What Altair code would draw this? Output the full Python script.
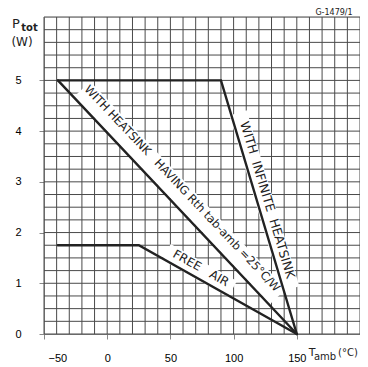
import altair as alt
import pandas as pd

# ---- curves (T_amb in degC, P_tot in W) ----
inf_t = [-39, 90, 150]
inf_p = [5, 5, 0]
hs_t = [-39, 150]
hs_p = [5, 0]
free_t = [-39, 25, 150]
free_p = [1.75, 1.75, 0]

NB = "\u00a0"
# ---- curve labels ----
label_text = ["WITH HEATSINK" + NB * 3 + "HAVING Rth tab-amb =25°C/W",
              "WITH" + NB * 2 + "INFINITE" + NB * 2 + "HEATSINK",
              "FREE" + NB * 3 + "AIR"]
label_x = [59.0, 126.7, 74.2]
label_y = [2.86, 2.64, 1.30]
label_angle = [46.6, 73.3, 29.2]
label_size = [11.5, 12.5, 12]

# white bands behind the labels (start / end in data units)
band_x1 = [-19.7, 103.5, 46.8]
band_y1 = [4.83, 4.36, 1.62]
band_x2 = [135.2, 145.2, 99.2]
band_y2 = [0.74, 0.89, 0.89]
band_w = [22, 18, 18]

# ---- grid and tick labels ----
x_grid = list(range(-50, 201, 10))
y_grid = [i * 0.25 for i in range(26)]
x_labels = [-50, 0, 50, 100, 150]
y_labels = [0, 1, 2, 3, 4, 5]

FONT = "DejaVu Sans"
INK = "#222222"
GRID = "#4a4a4a"

curves = []
for name, ts, ps in [("inf", inf_t, inf_p), ("hs", hs_t, hs_p), ("free", free_t, free_p)]:
    for i, (t, p) in enumerate(zip(ts, ps)):
        curves.append({"curve": name, "t": t, "p": p, "o": i})
curves = pd.DataFrame(curves)

labels = pd.DataFrame({"text": label_text, "t": label_x, "p": label_y})
bands = pd.DataFrame({"t": band_x1, "p": band_y1, "t2": band_x2, "p2": band_y2, "w": band_w})

xs = alt.Scale(domain=[-50, 200], nice=False, zero=False)
ys = alt.Scale(domain=[0, 6.25], nice=False, zero=False)

x_axis = alt.Axis(values=x_labels, title=None, grid=False, labelOverlap=False,
                  labelPadding=13, labelFontSize=11, labelFlush=True, labelFlushOffset=-4)
y_axis = alt.Axis(values=y_labels, title=None, grid=False, labelOverlap=False,
                  labelPadding=18, labelFontSize=11)

X = lambda f: alt.X(f, scale=xs, axis=x_axis)
Y = lambda f: alt.Y(f, scale=ys, axis=y_axis)

vgrid = alt.Chart(pd.DataFrame({"t": x_grid})).mark_rule(color=GRID, strokeWidth=1).encode(x=X("t:Q"))
hgrid = alt.Chart(pd.DataFrame({"p": y_grid})).mark_rule(color=GRID, strokeWidth=1).encode(y=Y("p:Q"))

band_layer = alt.Chart(bands).mark_rule(color="white", strokeCap="butt").encode(
    x=X("t:Q"), y=Y("p:Q"), x2="t2:Q", y2="p2:Q",
    size=alt.Size("w:Q", scale=None, legend=None),
)

base_lines = alt.Chart(curves).mark_line(color=INK, strokeWidth=2.4, strokeCap="round", strokeJoin="miter").encode(
    x=X("t:Q"), y=Y("p:Q"), detail="curve:N", order="o:Q",
)

text_layers = []
for i in range(len(label_text)):
    text_layers.append(
        alt.Chart(labels.iloc[[i]]).mark_text(
            font=FONT, fontSize=label_size[i], angle=label_angle[i], color=INK,
            align="center", baseline="middle"
        ).encode(x=X("t:Q"), y=Y("p:Q"), text="text:N")
    )

one = pd.DataFrame({"a": [0]})

def note(txt, x, y, size, weight="normal"):
    return alt.Chart(one).mark_text(text=txt, font=FONT, fontSize=size, color=INK,
                                    align="center", baseline="middle", fontWeight=weight).encode(
        x=alt.value(x), y=alt.value(y))

titles = [
    note("P", -28, 6.5, 13),
    note("tot", -14.5, 10.5, 10, "bold"),
    note("(W)", -22, 25, 12),
    note("T", 268, 336, 11),
    note("amb", 281, 340, 10),
    note("(°C)", 304, 336, 10),
    note("G-1479/1", 290, -4, 8),
]

chart = alt.layer(vgrid, hgrid, band_layer, base_lines, *text_layers, *titles).properties(
    width=316, height=317,
    autosize=alt.AutoSizeParams(type="none"),
    padding={"left": 36, "top": 9, "right": 0, "bottom": 29},
).configure_view(stroke="#111111", strokeWidth=1.5).configure_axis(
    domain=False, ticks=False, labelColor=INK, labelFont=FONT,
).configure(background="white")

chart.save("out.html", embed_options={"renderer": "svg", "actions": False})
